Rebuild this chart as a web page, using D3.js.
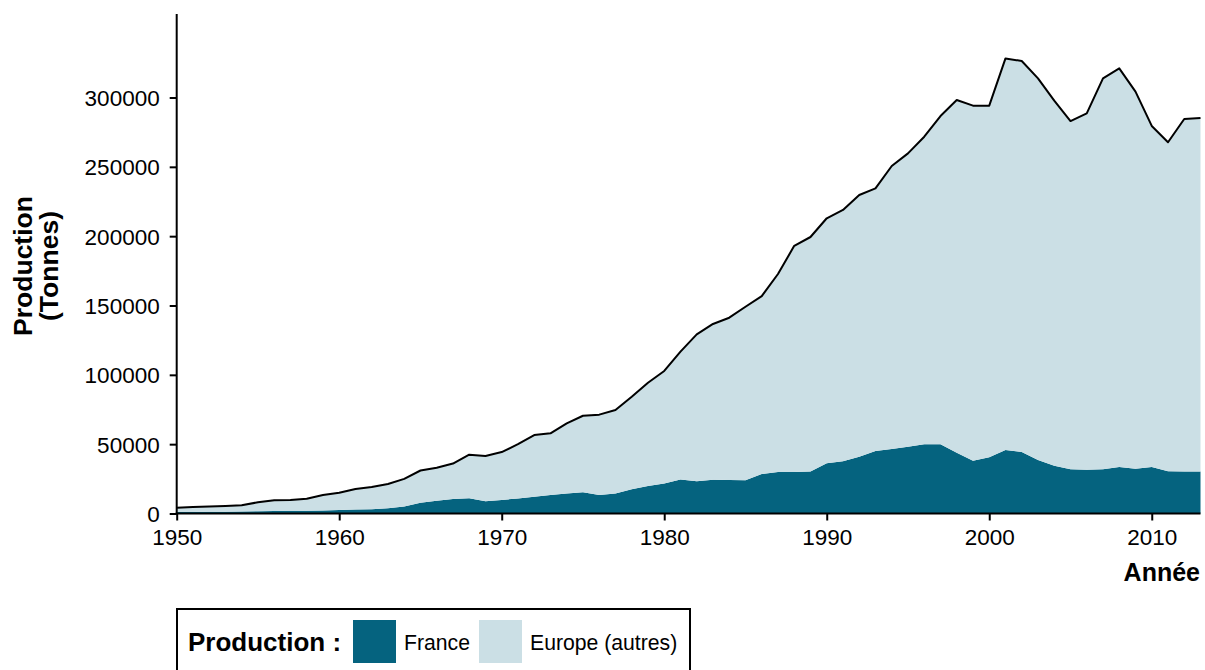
<!DOCTYPE html>
<html>
<head>
<meta charset="utf-8">
<script src="https://cdn.jsdelivr.net/npm/d3@7"></script>
<style>
  body { margin: 0; background: #fff; }
  text { font-family: "Liberation Sans", Arial, sans-serif; fill: #000; }
</style>
</head>
<body>
<svg id="chart" width="1205" height="670"></svg>
<script>
// Années 1950 - 2013
var years = d3.range(1950, 2014);

// Production France (tonnes)
var france = [
    1000, 1100, 1200, 1300, 1400, 1600, 1800, 1900, 2000, 2200,
    2500, 2800, 3100, 3800, 5000, 7800, 9200, 10400, 11000, 8800,
    9800, 10900, 12100, 13300, 14500, 15300, 13300, 14500, 17400, 19800,
    21700, 24600, 23200, 24400, 24100, 23900, 28500, 29900, 29900, 30200,
    36200, 37600, 41000, 45100, 46500, 48200, 49900, 49900, 43900, 38100,
    40500, 45800, 44300, 38600, 34500, 31900, 31600, 31900, 33500, 32300,
    33500, 30400, 30200, 30200
];

// Production autres pays d'Europe (tonnes)
var europeAutres = [
    3200, 3500, 3800, 4100, 4500, 6500, 7700, 7800, 8700, 11100,
    12500, 14900, 16000, 17500, 20000, 23200, 23800, 25600, 31400, 32700,
    34500, 39100, 44500, 44500, 50500, 55200, 58000, 60100, 66800, 74500,
    81100, 92100, 106000, 112300, 117100, 125200, 128300, 142800, 163100, 169200,
    176700, 181300, 188700, 189400, 204100, 211500, 221800, 236700, 254300, 256000,
    253600, 282400, 282000, 275200, 263200, 251100, 257000, 281900, 287500, 271900,
    246000, 237300, 254300, 255000
];

var seriesNames = ["France", "Europe (autres)"];
var seriesColors = ["#05637f", "#cbdfe5"];
var xTicks = [1950, 1960, 1970, 1980, 1990, 2000, 2010];
var yTicks = [0, 50000, 100000, 150000, 200000, 250000, 300000];

var svg = d3.select("#chart");

var x = d3.scaleLinear().domain([1950, 2013]).range([176.7, 1200.5]);
var y = d3.scaleLinear().domain([0, 300000]).range([513.5, 97.5]);

var table = years.map(function(yr, i){
    return { year: yr, "France": france[i], "Europe (autres)": europeAutres[i] };
});

var stack = d3.stack().keys(seriesNames);
var layers = stack(table);

var area = d3.area()
    .x(function(d){ return x(d.data.year); })
    .y0(function(d){ return y(d[0]); })
    .y1(function(d){ return y(d[1]); });

svg.selectAll(".layer").data(layers).enter()
    .append("path")
    .attr("class", "layer")
    .attr("fill", function(d, i){ return seriesColors[i]; })
    .attr("d", area);

// contour du total
var totalLine = d3.line()
    .x(function(d){ return x(d.data.year); })
    .y(function(d){ return y(d[1]); });

svg.append("path")
    .datum(layers[1])
    .attr("fill", "none")
    .attr("stroke", "#000")
    .attr("stroke-width", 2)
    .attr("stroke-linejoin", "round")
    .attr("d", totalLine);

// axes
var yAxis = svg.append("g")
    .attr("transform", "translate(" + x(1950) + ",0)")
    .call(d3.axisLeft(y).tickValues(yTicks).tickSize(7).tickSizeOuter(0).tickFormat(d3.format("d")));
yAxis.select(".domain").remove();
svg.append("line")
    .attr("x1", x(1950)).attr("x2", x(1950))
    .attr("y1", 14).attr("y2", 514.5)
    .attr("stroke", "#000").attr("stroke-width", 2);

var xAxis = svg.append("g")
    .attr("transform", "translate(0," + y(0) + ")")
    .call(d3.axisBottom(x).tickValues(xTicks).tickSize(7).tickSizeOuter(0).tickFormat(d3.format("d")));
xAxis.select(".domain").remove();
svg.append("line")
    .attr("x1", x(1950) - 1).attr("x2", x(2013))
    .attr("y1", y(0)).attr("y2", y(0))
    .attr("stroke", "#000").attr("stroke-width", 2);

svg.selectAll(".tick line").attr("stroke", "#000").attr("stroke-width", 2);
svg.selectAll(".tick text")
    .attr("font-size", 22.5)
    .attr("font-family", "Liberation Sans, Arial, sans-serif")
    .attr("fill", "#1a1a1a");
yAxis.selectAll(".tick text").attr("x", -17).attr("dy", "0.36em");
xAxis.selectAll(".tick text").attr("y", 31.5).attr("dy", "0");

// titres des axes
var yTitle = svg.append("text")
    .attr("transform", "translate(0,266) rotate(-90)")
    .attr("text-anchor", "middle")
    .attr("font-size", 26.5)
    .attr("font-weight", "bold");
yTitle.append("tspan").attr("x", 0).attr("y", 32).text("Production");
yTitle.append("tspan").attr("x", 0).attr("y", 58).text("(Tonnes)");

svg.append("text")
    .attr("x", 1200).attr("y", 581)
    .attr("text-anchor", "end")
    .attr("font-size", 25)
    .attr("font-weight", "bold")
    .text("Année");

// légende
var legend = svg.append("g");
legend.append("rect")
    .attr("x", 177).attr("y", 609)
    .attr("width", 513).attr("height", 80)
    .attr("fill", "#fff").attr("stroke", "#000").attr("stroke-width", 2);
legend.append("text")
    .attr("x", 188).attr("y", 651)
    .attr("font-size", 26).attr("font-weight", "bold")
    .text("Production :");

var legendX = [353, 479];
var legendTextX = [404, 530];
seriesNames.forEach(function(name, i){
    legend.append("rect")
        .attr("x", legendX[i]).attr("y", 620)
        .attr("width", 43).attr("height", 43)
        .attr("fill", seriesColors[i]);
    legend.append("text")
        .attr("x", legendTextX[i]).attr("y", 650)
        .attr("font-size", 21.2)
        .attr("fill", "#1a1a1a")
        .text(name);
});
</script>
</body>
</html>
